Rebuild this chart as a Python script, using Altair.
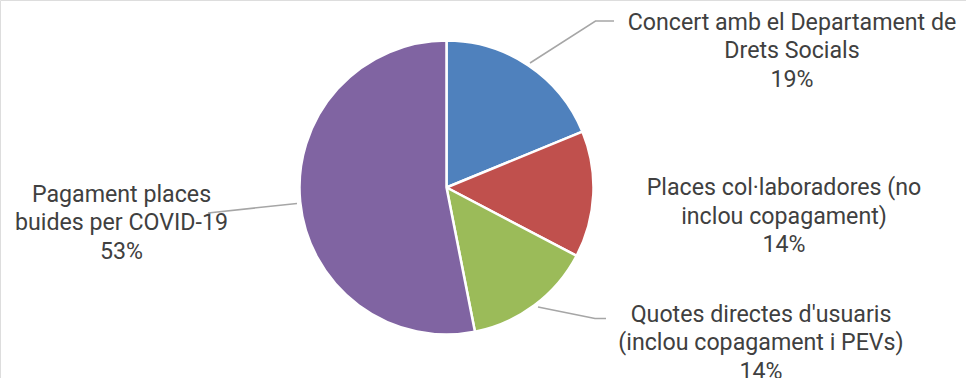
import altair as alt
import pandas as pd

# ---- data ----
categories = [
    "Concert amb el Departament de Drets Socials",
    "Places col·laboradores (no inclou copagament)",
    "Quotes directes d'usuaris (inclou copagament i PEVs)",
    "Pagament places buides per COVID-19",
]
values = [18.8, 13.9, 14.2, 53.1]
label_lines = [
    ["Concert amb el Departament de", "Drets Socials"],
    ["Places col·laboradores (no", "inclou copagament)"],
    ["Quotes directes d'usuaris", "(inclou copagament i PEVs)"],
    ["Pagament places", "buides per COVID-19"],
]

# ---- styling / layout ----
colors = ["#4F81BD", "#C0504D", "#9BBB59", "#8064A2"]
W, H = 966, 378
cx, cy, radius = 446.5, 187.5, 147
label_x = [792, 784, 761, 121.5]
label_base = [29.5, 195, 321.5, 201.5]
line_h = 28.5
leaders = [
    [(530, 63), (595.5, 21), (614, 21)],
    [],
    [(538, 307), (595, 318.5), (606, 318.5)],
    [(297, 203.5), (208, 213)],
]

pie_df = pd.DataFrame({"cat": categories, "value": values, "idx": list(range(len(categories)))})

text_rows = []
for i, (lines, v) in enumerate(zip(label_lines, values)):
    all_lines = lines + [f"{round(v)}%"]
    for j, t in enumerate(all_lines):
        text_rows.append({"text": t, "x": label_x[i], "y": label_base[i] + j * line_h})
text_df = pd.DataFrame(text_rows)

lead_rows = []
for i, pts in enumerate(leaders):
    for k, (x, y) in enumerate(pts):
        lead_rows.append({"cat": categories[i], "x": x, "y": y, "k": k})
lead_df = pd.DataFrame(lead_rows)

pie = alt.Chart(pie_df).mark_arc(outerRadius=radius, stroke="white", strokeWidth=2.5).encode(
    theta=alt.Theta("value:Q", stack=True),
    color=alt.Color("cat:N", scale=alt.Scale(domain=categories, range=colors), legend=None),
    order=alt.Order("idx:Q"),
    x=alt.value(cx),
    y=alt.value(cy),
)

text = alt.Chart(text_df).mark_text(
    align="center", baseline="alphabetic", font="Roboto", fontSize=23.2, color="#404040"
).encode(
    x=alt.X("x:Q", scale=None, axis=None),
    y=alt.Y("y:Q", scale=None, axis=None),
    text="text:N",
)

lines = alt.Chart(lead_df).mark_line(color="#A6A6A6", strokeWidth=1.5).encode(
    x=alt.X("x:Q", scale=None, axis=None),
    y=alt.Y("y:Q", scale=None, axis=None),
    detail="cat:N",
    order="k:Q",
)

chart = alt.layer(pie, text, lines).properties(
    width=W, height=H, autosize=alt.AutoSizeParams(type="none"), padding=0
).configure_view(strokeWidth=0).configure(background="white")

chart.save("out.html", embed_options={"renderer": "svg", "actions": False})
